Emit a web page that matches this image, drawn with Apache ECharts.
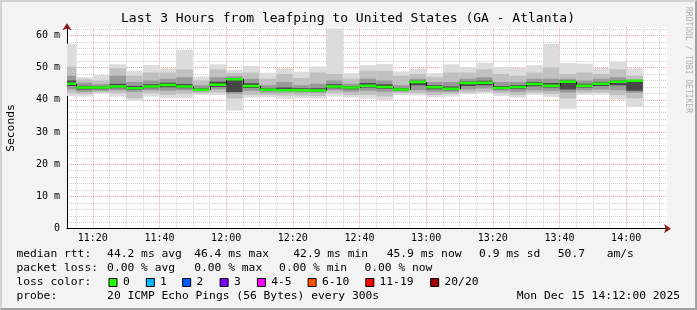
<!DOCTYPE html>
<html><head><meta charset="utf-8">
<script src="https://cdn.jsdelivr.net/npm/echarts@6/dist/echarts.min.js"></script>
<style>
html,body{margin:0;padding:0;background:#f3f3f3;}
#wrap{position:relative;width:697px;height:310px;}
#c{position:absolute;left:0;top:0;width:697px;height:310px;}
#frame{position:absolute;left:0;top:0;width:697px;height:310px;box-sizing:border-box;border-top:2px solid #d2d2d2;border-left:2px solid #d2d2d2;border-right:2px solid #a0a0a0;border-bottom:2px solid #a0a0a0;pointer-events:none;}
</style></head><body>
<div id="wrap"><div id="c"></div><div id="frame"></div></div>
<script>
// ---- data (ms), one entry per 5-minute probe round, keyed by round start time ----
const barStart = ['11:10','11:15','11:20','11:25','11:30','11:35','11:40','11:45','11:50','11:55',
  '12:00','12:05','12:10','12:15','12:20','12:25','12:30','12:35','12:40','12:45','12:50','12:55',
  '13:00','13:05','13:10','13:15','13:20','13:25','13:30','13:35','13:40','13:45','13:50','13:55','14:00'];
const minRtt = [41.2,41.0,42.0,41.0,39.6,41.0,40.5,40.5,41.5,41.5,36.7,40.7,40.8,40.3,40.5,40.4,41.0,40.7,40.3,39.8,41.5,41.3,40.8,41.0,41.7,42.0,41.2,40.7,41.5,40.9,37.2,41.5,41.6,40.1,37.8];
const q10Rtt = [42.0,41.8,42.3,42.0,40.5,42.0,41.5,41.8,42.0,42.3,40.5,41.5,41.5,41.3,41.3,41.2,42.0,41.5,41.5,41.0,42.0,42.0,41.5,41.8,42.3,42.5,42.0,41.5,42.2,41.8,40.5,42.2,42.3,41.5,40.5];
const q25Rtt = [43.2,42.5,42.8,43.0,42.5,43.0,42.8,43.0,42.6,43.3,41.9,42.8,42.3,42.3,42.3,42.2,43.0,42.5,42.8,42.5,42.6,43.0,42.5,42.5,43.2,43.5,42.8,42.5,43.0,42.8,42.3,43.0,43.2,43.0,42.2];
const q40Rtt = [44.3,43.2,43.3,43.6,43.1,43.6,43.9,43.6,42.9,44.0,42.4,43.7,42.7,42.7,42.7,42.6,43.6,43.3,43.8,43.4,42.9,44.5,43.3,43.0,44.3,44.5,43.3,43.4,44.2,43.8,43.2,43.8,44.3,44.5,42.8];
const medRtt = [45.0,43.8,43.8,44.1,43.6,44.1,44.6,44.1,43.1,44.7,46.4,44.3,43.1,43.0,43.0,42.9,44.1,43.8,44.4,44.0,43.2,45.5,43.9,43.4,45.2,45.3,43.7,44.0,44.9,44.4,45.6,44.4,45.0,45.6,45.9];
const q60Rtt = [46.0,44.4,44.2,45.0,44.3,44.8,45.3,44.9,43.6,45.6,46.7,45.1,43.6,43.8,43.6,43.6,44.8,44.3,45.2,44.8,43.7,45.9,44.5,44.1,45.7,45.9,44.3,44.6,45.5,45.2,46.0,45.0,45.5,46.0,46.1];
const q75Rtt = [47.5,45.3,44.8,47.5,45.5,46.0,46.5,47.0,44.5,47.0,47.3,46.5,44.5,45.5,44.5,45.0,46.0,45.0,46.5,46.0,44.5,46.5,45.5,45.5,46.5,47.0,45.5,45.5,46.5,46.5,46.5,46.0,46.5,47.0,46.3];
const q90Rtt = [50.3,46.3,46.0,49.8,47.5,48.5,48.5,49.5,46.0,49.5,48.3,48.5,46.5,48.0,46.8,48.5,48.0,46.5,49.0,49.0,47.5,48.0,47.0,48.5,48.5,49.5,48.0,47.5,48.5,50.0,48.0,48.5,48.0,49.5,47.5];
const maxRtt = [57.4,47.0,47.7,51.0,49.0,50.8,49.8,55.5,47.2,51.0,49.3,50.5,48.4,49.8,48.7,50.3,62.1,48.3,50.8,51.1,48.8,49.7,48.3,51.0,50.1,51.5,50.2,50.0,50.7,57.4,51.4,51.2,49.9,51.8,49.8];
const timeTicks = ['11:20','11:40','12:00','12:20','12:40','13:00','13:20','13:40','14:00'];
const yTicks = [0,10,20,30,40,50,60];

const STEP = 5;               // minutes per probe round (300 s)
const X_MIN = 672.25, X_MAX = 852.25;  // 11:12:15 .. 14:12:15
const Y_MAX = 62.5;
const toMin = t => { const [h,m] = t.split(':').map(Number); return h*60+m; };
const fmtMin = v => { const h = Math.floor(v/60), m = Math.round(v - h*60); return (h<10?'0':'')+h+':'+(m<10?'0':'')+m; };

const rows = barStart.map((t,i)=>[toMin(t), toMin(t)+STEP, minRtt[i], q10Rtt[i], q25Rtt[i], q40Rtt[i], medRtt[i], q60Rtt[i], q75Rtt[i], q90Rtt[i], maxRtt[i]]);
const layers = [[2,10,'#dcdcdc'],[3,9,'#c0c0c0'],[4,8,'#999999'],[5,7,'#484848']];

function xr(api, params){
  const cs = params.coordSys;
  const cl = x => Math.max(cs.x, Math.min(cs.x+cs.width, x));
  return [cl(api.coord([api.value(0),0])[0]), cl(api.coord([api.value(1),0])[0])];
}
function smoke(params, api){
  const [x0,x1] = xr(api, params);
  if (x1 <= x0) return;
  const ch = layers.map(([lo,hi,col])=>{
    const yt = api.coord([api.value(0), api.value(hi)])[1];
    const yb = api.coord([api.value(0), api.value(lo)])[1];
    return {type:'rect', shape:{x:x0, y:yt, width:x1-x0, height:yb-yt}, style:{fill:col}};
  });
  return {type:'group', children: ch};
}
function median(params, api){
  const i = params.dataIndex;
  const [x0,x1] = xr(api, params);
  if (x1 <= x0) return;
  const ym = api.coord([api.value(0), api.value(6)])[1];
  const ch = [];
  if (i > 0) {
    const yp = api.coord([api.value(0), medRtt[i-1]])[1];
    ch.push({type:'line', shape:{x1:Math.round(x0)+0.5, y1:yp, x2:Math.round(x0)+0.5, y2:ym}, style:{stroke:'#000', lineWidth:1}});
  }
  ch.push({type:'line', shape:{x1:x0, y1:ym, x2:x1, y2:ym}, style:{stroke:'#20ff00', lineWidth:2.5}});
  return {type:'group', children: ch};
}

const MONO = '"DejaVu Sans Mono", monospace';
const LF = 11.3;
const txt = (x,y,s,extra)=>Object.assign({type:'text', x, y, silent:true, style:{text:s, font:LF+'px '+MONO, fill:'#000', textVerticalAlign:'middle'}}, extra||{});
const lossColors = [['0','#20ff00',108.5,123],['1','#00b8ff',145.8,160],['2','#0059ff',182.2,196.5],['3','#7e00ff',219.6,234],['4-5','#ff00ff',256.9,271.2],['6-10','#ff5500',307.6,322],['11-19','#ff0000',365.3,379.5],['20/20','#a10000',430.2,444.5]];

const graphics = [
  {type:'text', x:348, y:19, silent:true, style:{text:'Last 3 Hours from leafping to United States (GA - Atlanta)', font:'13px '+MONO, fill:'#000', textAlign:'center', textVerticalAlign:'middle'}},
  {type:'text', x:688, y:60, rotation:-Math.PI/2, silent:true, style:{text:'RRDTOOL / TOBI OETIKER', font:'8px '+MONO, fill:'#b0b0b0', textAlign:'center', textVerticalAlign:'middle'}},
  txt(16.4,254,'median rtt:'), txt(107.1,254,'44.2 ms avg'), txt(194.2,254,'46.4 ms max'), txt(293.3,254,'42.9 ms min'), txt(386.7,254,'45.9 ms now'), txt(479.1,254,'0.9 ms sd'), txt(557.8,254,'50.7'), txt(606.7,254,'am/s'),
  txt(16.4,268,'packet loss:'), txt(107.1,268,'0.00 % avg'), txt(194.2,268,'0.00 % max'), txt(279.1,268,'0.00 % min'), txt(364.4,268,'0.00 % now'),
  txt(16.4,282,'loss color:'),
  txt(16.4,296,'probe:'), txt(107.1,296,'20 ICMP Echo Pings (56 Bytes) every 300s'),
  {type:'text', x:680, y:296, silent:true, style:{text:'Mon Dec 15 14:12:00 2025', font:LF+'px '+MONO, fill:'#000', textAlign:'right', textVerticalAlign:'middle'}}
];
lossColors.forEach(([lab,col,bx,tx])=>{
  graphics.push({type:'rect', silent:true, shape:{x:bx+0.5, y:278.5, width:8, height:8}, style:{fill:col, stroke:'#000', lineWidth:1}});
  graphics.push(txt(tx,282,lab));
});

const chart = echarts.init(document.getElementById('c'), null, {renderer:'canvas'});
const gridLine = (c)=>({show:true, lineStyle:{color:c, type:[1,1], width:1}});
chart.setOption({
  backgroundColor:'#f3f3f3',
  animation:false,
  grid:{left:67, right:30, top:27.3, bottom:81.3, show:true, backgroundColor:'#ffffff', borderWidth:0, containLabel:false, outerBoundsMode:'none'},
  xAxis:[{
    type:'value', min:X_MIN, max:X_MAX, splitNumber:9,
    axisLine:{show:true, onZero:false, lineStyle:{color:'#000', width:1}},
    axisTick:{show:false},
    minorTick:{show:false, splitNumber:4},
    axisLabel:{show:true, margin:5, showMinLabel:false, showMaxLabel:false, color:'#000', fontFamily:MONO, fontSize:10,
      formatter:v=> timeTicks.indexOf(fmtMin(v))>=0 ? fmtMin(v) : ''},
    splitLine:Object.assign(gridLine('#f2a0a0'), {showMinLine:false, showMaxLine:false}),
    minorSplitLine:gridLine('#cfcfcf')
  },{
    type:'value', min:X_MIN, max:X_MAX, position:'bottom', z:4,
    axisLine:{show:true, onZero:false, symbol:['none','arrow'], symbolSize:[7,7], symbolOffset:[0,4], lineStyle:{color:'#8b1a1a', width:0}},
    axisTick:{show:false}, axisLabel:{show:false}, splitLine:{show:false}
  }],
  yAxis:[{
    type:'value', min:0, max:Y_MAX, splitNumber:6,
    name:'Seconds', nameLocation:'middle', nameRotate:90, nameGap:50,
    nameTextStyle:{fontFamily:MONO, fontSize:11.3, color:'#000'},
    axisLine:{show:true, lineStyle:{color:'#000', width:1}},
    axisTick:{show:false},
    minorTick:{show:false, splitNumber:5},
    axisLabel:{show:true, margin:7, showMaxLabel:false, color:'#000', fontFamily:MONO, fontSize:10,
      formatter:v=> yTicks.indexOf(v)>=0 ? (v===0?'0':v+' m') : ''},
    splitLine:Object.assign(gridLine('#f2a0a0'), {showMinLine:false, showMaxLine:false}),
    minorSplitLine:gridLine('#cfcfcf')
  },{
    type:'value', min:0, max:Y_MAX, position:'left', z:4,
    axisLine:{show:true, symbol:['none','arrow'], symbolSize:[7,7], symbolOffset:[0,4], lineStyle:{color:'#8b1a1a', width:0}},
    axisTick:{show:false}, axisLabel:{show:false}, splitLine:{show:false}
  }],
  graphic: graphics,
  series:[
    {type:'custom', renderItem:smoke, data:rows, xAxisIndex:0, yAxisIndex:0, z:2, clip:true, silent:true},
    {type:'custom', renderItem:median, data:rows, xAxisIndex:0, yAxisIndex:0, z:5, clip:true, silent:true}
  ]
});
</script>
</body></html>
